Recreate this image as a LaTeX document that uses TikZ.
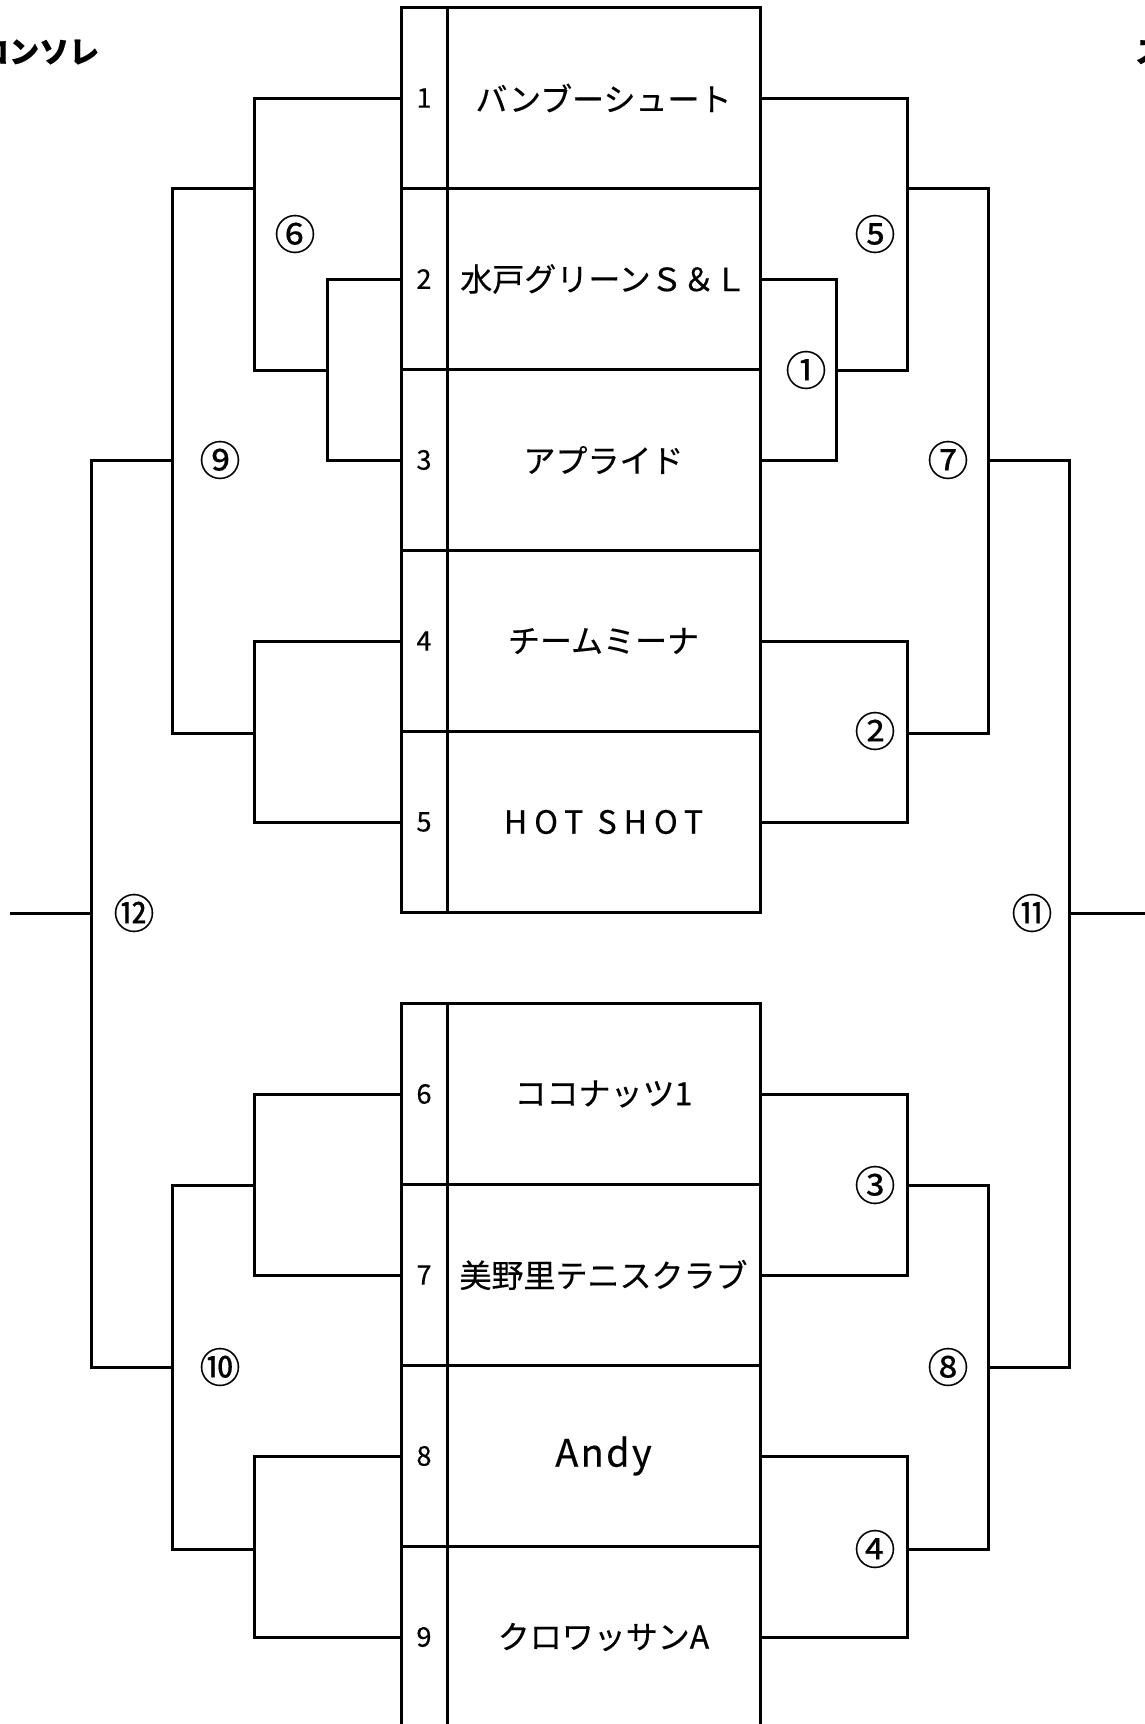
\documentclass[tikz,border=0pt]{standalone}
\usepackage{fontspec}
\setmainfont{Noto Sans CJK JP}[FakeBold=0.4]
\usetikzlibrary{positioning}

\tikzset{
  namecell/.style={draw, line width=3pt, minimum width=313pt, minimum height=181pt,
    inner sep=0pt, outer sep=0pt, font=\fontsize{32}{36}\selectfont},
  numcell/.style={draw, line width=3pt, minimum width=46pt, minimum height=181pt,
    inner sep=0pt, outer sep=0pt, font=\fontsize{27}{30}\selectfont},
  rnum/.style={inner sep=0pt, font=\fontsize{41}{44}\selectfont},
  bline/.style={line width=3pt},
  head/.style={anchor=west, inner sep=0pt, font=\bfseries\fontsize{30}{34}\selectfont}
}

\begin{document}
\begin{tikzpicture}[x=1pt, y=-1pt]
  \useasboundingbox (0,0) rectangle (1145,1724);

  \node[head] (hl) at (-21,52) {コンソレ};
  \node[head] (hr) at (1135,52) {ス};

  % upper block
  \node[namecell] (t1) at (603.5,98) {バンブーシュート};
  \node[namecell, below=0pt of t1] (t2) {水戸グリーンＳ＆Ｌ};
  \node[namecell, below=0pt of t2] (t3) {アプライド};
  \node[namecell, below=0pt of t3] (t4) {チームミーナ};
  \node[namecell, below=0pt of t4] (t5) {\addfontfeatures{LetterSpace=22}HOT SHOT};
  \node[numcell, left=0pt of t1] (n1) {1};
  \node[numcell, left=0pt of t2] (n2) {2};
  \node[numcell, left=0pt of t3] (n3) {3};
  \node[numcell, left=0pt of t4] (n4) {4};
  \node[numcell, left=0pt of t5] (n5) {5};

  % lower block
  \node[namecell] (t6) at (603.5,1094) {ココナッツ1};
  \node[namecell, below=0pt of t6] (t7) {美野里テニスクラブ};
  \node[namecell, below=0pt of t7] (t8) {\fontsize{38}{42}\selectfont\addfontfeatures{LetterSpace=6}Andy};
  \node[namecell, below=0pt of t8] (t9) {クロワッサンA};
  \node[numcell, left=0pt of t6] (n6) {6};
  \node[numcell, left=0pt of t7] (n7) {7};
  \node[numcell, left=0pt of t8] (n8) {8};
  \node[numcell, left=0pt of t9] (n9) {9};

  % left side (consolation)
  \coordinate (a23) at (327,370);
  \coordinate (o6) at (254,188);
  \coordinate (o45) at (254,733);
  \coordinate (o67) at (254,1185);
  \coordinate (o89) at (254,1549);
  \coordinate (m9) at (172,460);
  \coordinate (m10) at (172,1367);
  \coordinate (m12) at (91,913);
  \coordinate (e12) at (10,913);
  \draw[bline] (n2.west) -| (a23) |- (n3.west);
  \draw[bline] (n1.west) -| (o6) |- (a23);
  \draw[bline] (n4.west) -| (o45) |- (n5.west);
  \draw[bline] (o6) -| (m9) |- (o45);
  \draw[bline] (n6.west) -| (o67) |- (n7.west);
  \draw[bline] (n8.west) -| (o89) |- (n9.west);
  \draw[bline] (o67) -| (m10) |- (o89);
  \draw[bline] (m9) -| (m12) |- (m10);
  \draw[bline] (m12) -- (e12);

  % right side
  \coordinate (b23) at (836,370);
  \coordinate (p1) at (907,188);
  \coordinate (p45) at (907,733);
  \coordinate (p67) at (907,1185);
  \coordinate (p89) at (907,1549);
  \coordinate (m7) at (988,460);
  \coordinate (m8) at (988,1367);
  \coordinate (m11) at (1069,913);
  \coordinate (e11) at (1150,913);
  \draw[bline] (t2.east) -| (b23) |- (t3.east);
  \draw[bline] (t1.east) -| (p1) |- (b23);
  \draw[bline] (t4.east) -| (p45) |- (t5.east);
  \draw[bline] (p1) -| (m7) |- (p45);
  \draw[bline] (t6.east) -| (p67) |- (t7.east);
  \draw[bline] (t8.east) -| (p89) |- (t9.east);
  \draw[bline] (p67) -| (m8) |- (p89);
  \draw[bline] (m7) -| (m11) |- (m8);
  \draw[bline] (m11) -- (e11);

  % match numbers
  \node[rnum] (r1) at (806,370) {①};
  \node[rnum] (r2) at (875,731) {②};
  \node[rnum] (r3) at (875,1185) {③};
  \node[rnum] (r4) at (875,1549) {④};
  \node[rnum] (r5) at (875,234) {⑤};
  \node[rnum] (r6) at (295,234) {⑥};
  \node[rnum] (r7) at (948,460) {⑦};
  \node[rnum] (r8) at (948,1367) {⑧};
  \node[rnum] (r9) at (220,460) {⑨};
  \node[rnum] (r10) at (220,1367) {⑩};
  \node[rnum] (r11) at (1032,913) {⑪};
  \node[rnum] (r12) at (134,913) {⑫};
\end{tikzpicture}
\end{document}
